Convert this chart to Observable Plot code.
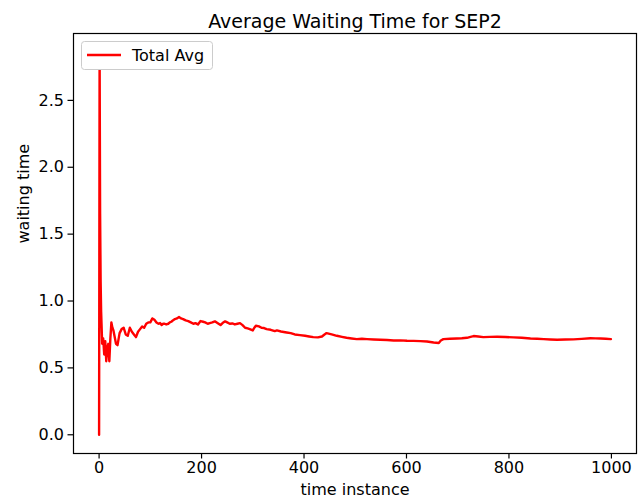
<!DOCTYPE html>
<html>
<head>
<meta charset="utf-8">
<script src="https://cdn.jsdelivr.net/npm/d3@7"></script>
<script src="https://cdn.jsdelivr.net/npm/@observablehq/plot@0.6"></script>
<style>
  html, body { margin: 0; padding: 0; background: #fff; }
  #chart { width: 642px; height: 503px; }
  svg { font-family: "DejaVu Sans", sans-serif; }
</style>
</head>
<body>
<div id="chart"></div>
<script>
// time instance (x) and running average waiting time (y)
const timeInstance = [0, 1, 2, 3, 4, 5, 6, 8, 10, 12, 14, 16, 18, 20, 22, 24, 26, 28, 30, 33, 36, 40, 44, 48, 52, 56, 60, 64, 68, 72, 76, 80, 84, 88, 92, 96, 100, 104, 108, 112, 116, 119, 122, 125, 128, 131, 135, 138, 141, 144, 148, 152, 156, 160, 164, 169, 174, 179, 184, 188, 193, 198, 203, 207, 212, 216, 221, 226, 231, 237, 241, 246, 250, 255, 260, 265, 270, 275, 280, 285, 290, 294, 300, 303, 306, 312, 317, 322, 327, 335, 343, 347, 355, 366, 374, 382, 392, 402, 410, 418, 427, 435, 440, 444, 454, 464, 474, 483, 493, 503, 513, 523, 536, 549, 562, 575, 588, 601, 614, 627, 640, 653, 663, 667, 672, 685, 698, 708, 718, 725, 731, 740, 750, 763, 777, 793, 809, 825, 842, 855, 868, 881, 894, 910, 926, 942, 959, 969, 979, 989, 999];
const avgWait = [0.0, 2.86, 1.65, 1.15, 0.92, 0.80, 0.68, 0.72, 0.60, 0.70, 0.55, 0.65, 0.68, 0.55, 0.72, 0.84, 0.80, 0.78, 0.74, 0.68, 0.67, 0.76, 0.79, 0.80, 0.75, 0.74, 0.80, 0.77, 0.75, 0.73, 0.77, 0.79, 0.81, 0.80, 0.83, 0.84, 0.84, 0.87, 0.86, 0.84, 0.83, 0.835, 0.82, 0.83, 0.83, 0.825, 0.83, 0.84, 0.845, 0.855, 0.865, 0.87, 0.88, 0.87, 0.865, 0.855, 0.85, 0.84, 0.83, 0.835, 0.825, 0.85, 0.845, 0.84, 0.83, 0.835, 0.84, 0.848, 0.835, 0.82, 0.835, 0.848, 0.84, 0.83, 0.832, 0.825, 0.83, 0.835, 0.82, 0.80, 0.795, 0.79, 0.78, 0.80, 0.815, 0.81, 0.80, 0.798, 0.79, 0.785, 0.775, 0.78, 0.772, 0.765, 0.76, 0.75, 0.745, 0.74, 0.735, 0.73, 0.728, 0.735, 0.75, 0.76, 0.75, 0.74, 0.732, 0.725, 0.72, 0.715, 0.718, 0.715, 0.712, 0.71, 0.708, 0.705, 0.706, 0.703, 0.702, 0.70, 0.697, 0.69, 0.686, 0.705, 0.715, 0.718, 0.72, 0.722, 0.725, 0.732, 0.738, 0.735, 0.73, 0.732, 0.733, 0.731, 0.728, 0.725, 0.72, 0.718, 0.715, 0.712, 0.71, 0.712, 0.713, 0.717, 0.722, 0.721, 0.72, 0.718, 0.715];
const xTicks = [0, 200, 400, 600, 800, 1000];
const yTicks = [0.0, 0.5, 1.0, 1.5, 2.0, 2.5];
const titleText = "Average Waiting Time for SEP2";
const xLabel = "time instance";
const yLabel = "waiting time";
const seriesName = "Total Avg";

const data = timeInstance.map((t, i) => ({t, v: avgWait[i]}));

const plot = Plot.plot({
  width: 642,
  height: 503,
  marginLeft: 73,
  marginRight: 6,
  marginTop: 33,
  marginBottom: 50,
  style: {fontFamily: "DejaVu Sans, sans-serif", fontSize: "16px", background: "#fff", color: "#000", overflow: "visible"},
  x: {domain: [-49.95, 1048.95], ticks: xTicks, tickFormat: d => String(d), label: null},
  y: {domain: [-0.14, 3.0], ticks: yTicks, tickFormat: d3.format(".1f"), label: null},
  marks: [
    Plot.axisX({ticks: xTicks, tickFormat: d => String(d), tickSize: 5.5, tickPadding: 3, stroke: "#000", strokeWidth: 1.2, strokeOpacity: 1, fontSize: 16, label: null}),
    Plot.axisY({ticks: yTicks, tickFormat: d3.format(".1f"), tickSize: 5.5, tickPadding: 4, stroke: "#000", strokeWidth: 1.2, strokeOpacity: 1, fontSize: 16, label: null}),
    Plot.line(data, {x: "t", y: "v", stroke: "#ff0000", strokeWidth: 2.4, strokeLinejoin: "round", clip: true}),
    Plot.frame({stroke: "#000", strokeWidth: 1.2}),
    Plot.text([titleText], {frameAnchor: "top", dy: -19, fontSize: 19, fill: "#000"}),
    Plot.text([xLabel], {frameAnchor: "bottom", dy: 41, fontSize: 16, fill: "#000"}),
    Plot.text([yLabel], {frameAnchor: "left", dx: -50, rotate: -90, fontSize: 16, fill: "#000"})
  ]
});

// legend (matplotlib style, upper-left)
const svg = d3.select(plot);
const lg = svg.append("g");
lg.append("rect").attr("x", 81.5).attr("y", 41.5).attr("width", 131).attr("height", 28)
  .attr("rx", 3).attr("fill", "#fff").attr("stroke", "#cccccc").attr("stroke-width", 1);
lg.append("line").attr("x1", 87).attr("x2", 121).attr("y1", 55).attr("y2", 55)
  .attr("stroke", "#ff0000").attr("stroke-width", 2.4);
lg.append("text").attr("x", 132).attr("y", 55).attr("dy", "0.35em").attr("text-anchor", "start")
  .attr("font-size", 16).attr("fill", "#000").text(seriesName);

document.getElementById("chart").appendChild(plot);
</script>
</body>
</html>
